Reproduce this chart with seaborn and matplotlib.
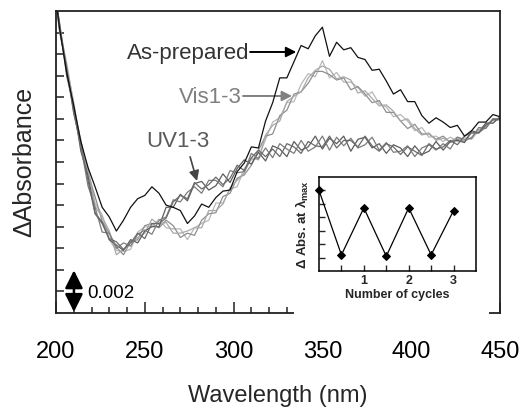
import numpy as np
import pandas as pd
import matplotlib
matplotlib.use("Agg")
import matplotlib.pyplot as plt
import seaborn as sns
from matplotlib.patches import Rectangle, FancyArrowPatch
from matplotlib.ticker import MultipleLocator

# ---------------- data (ΔA in units of 0.001) ----------------
wavelength = [200] + list(range(202, 451, 4))

as_prepared = [14.5,
    13.2, 11.15, 9.6, 7.95, 6.75, 5.85, 4.9, 4.45, 3.8, 4.3,
    4.9, 5.3, 5.45, 5.85, 5.55, 5.0, 4.9, 4.75, 4.15, 4.5,
    5.05, 4.9, 5.35, 5.65, 5.7, 6.55, 6.95, 7.7, 7.65, 8.9,
    9.75, 10.9, 10.9, 11.65, 12.4, 12.25, 12.85, 13.25, 11.9, 12.55,
    12.2, 12.3, 11.85, 11.75, 11.25, 11.3, 10.75, 10.15, 10.35, 9.8,
    9.8, 9.15, 8.8, 9.05, 8.85, 8.6, 8.7, 8.2, 8.45, 8.85,
    8.85, 9.2, 9.1]

vis1 = [14.6,
    13.2, 11.6, 9.65, 7.75, 6.75, 5.1, 4.55, 3.4, 2.9, 2.85,
    2.95, 3.75, 4.0, 4.0, 4.35, 3.95, 3.9, 3.9, 3.4, 3.95,
    4.15, 4.3, 5.1, 5.1, 5.75, 5.85, 6.7, 7.1, 7.2, 8.05,
    8.85, 9.05, 9.75, 9.8, 10.6, 11.1, 10.95, 11.7, 10.9, 11.15,
    10.7, 10.7, 10.45, 10.05, 10.25, 9.7, 9.55, 9.1, 9.2, 8.9,
    8.45, 8.6, 8.15, 8.2, 7.95, 8.15, 7.95, 8.15, 8.05, 8.45,
    8.8, 8.8, 9.05]

vis2 = [14.4,
    13.45, 11.3, 9.4, 8.0, 6.45, 5.4, 4.25, 3.7, 3.05, 2.7,
    3.3, 3.4, 4.05, 4.15, 3.95, 4.3, 4.05, 3.5, 3.7, 3.6,
    4.3, 4.6, 4.65, 5.4, 5.55, 6.25, 6.4, 6.85, 7.55, 8.2,
    8.3, 9.15, 9.4, 10.15, 10.25, 10.65, 11.2, 11.2, 11.05, 10.8,
    10.9, 10.35, 10.5, 10.15, 9.75, 9.85, 9.3, 9.3, 8.9, 8.55,
    8.75, 8.3, 8.3, 8.05, 8.2, 7.9, 8.05, 7.95, 8.35, 8.35,
    8.6, 9.0, 8.95]

vis3 = [14.5,
    13.1, 11.45, 9.75, 7.8, 6.6, 4.95, 4.45, 3.8, 2.7, 2.95,
    3.25, 3.5, 3.7, 4.35, 4.1, 4.2, 3.7, 3.7, 3.8, 3.95,
    3.95, 4.75, 4.75, 5.05, 5.8, 6.15, 6.5, 7.2, 7.1, 8.25,
    8.7, 8.9, 9.8, 10.05, 10.25, 10.9, 11.25, 11.45, 11.3, 10.85,
    10.95, 10.8, 10.2, 10.3, 9.95, 9.6, 9.65, 9.35, 8.9, 9.0,
    8.55, 8.25, 8.35, 8.0, 8.1, 7.95, 8.15, 7.95, 8.15, 8.5,
    8.65, 8.95, 8.95]

uv1 = [14.6,
    13.4, 11.0, 9.55, 7.5, 6.35, 4.65, 4.2, 3.4, 3.15, 2.9,
    3.4, 3.25, 3.8, 4.0, 4.0, 4.9, 4.9, 5.5, 5.2, 6.0,
    6.1, 5.7, 5.9, 6.45, 6.05, 6.7, 7.1, 6.9, 7.45, 7.05,
    7.75, 7.6, 7.25, 7.95, 7.55, 7.7, 8.2, 7.6, 8.1, 7.85,
    8.2, 7.5, 8.05, 8.15, 7.65, 7.85, 7.4, 7.8, 7.65, 7.25,
    7.75, 7.35, 7.5, 7.95, 7.55, 7.95, 8.0, 7.9, 8.45, 8.35,
    8.8, 8.8, 9.1]

uv2 = [14.4,
    13.05, 11.4, 9.3, 7.75, 5.9, 4.9, 3.75, 3.7, 3.0, 3.25,
    3.1, 3.65, 3.85, 3.65, 4.3, 4.45, 5.25, 5.15, 5.6, 5.85,
    5.55, 6.15, 6.15, 5.85, 6.6, 6.5, 6.55, 7.4, 7.15, 7.65,
    7.2, 7.85, 7.6, 7.4, 8.0, 7.5, 7.7, 8.2, 7.55, 8.15,
    7.75, 8.1, 7.65, 7.8, 8.15, 7.55, 7.9, 7.45, 7.5, 7.75,
    7.25, 7.65, 7.8, 7.55, 7.85, 7.6, 8.15, 8.05, 8.1, 8.6,
    8.55, 9.0, 9.0]

uv3 = [14.5,
    13.25, 11.3, 9.25, 7.8, 6.15, 4.6, 4.15, 3.45, 3.3, 2.95,
    3.25, 3.7, 3.45, 4.15, 4.15, 4.4, 5.15, 5.45, 5.3, 6.05,
    5.75, 5.95, 6.3, 5.95, 6.25, 6.85, 6.6, 7.2, 7.55, 7.25,
    7.6, 7.25, 7.85, 7.7, 7.4, 7.95, 7.75, 7.7, 8.2, 7.65,
    8.0, 8.0, 7.7, 8.2, 7.75, 7.5, 7.85, 7.7, 7.35, 7.7,
    7.5, 7.3, 7.85, 7.6, 7.7, 8.0, 7.8, 8.2, 8.35, 8.35,
    8.7, 8.95, 9.0]

curve_names = ["Vis1", "Vis2", "Vis3", "UV1", "UV2", "UV3", "As-prepared"]
curve_values = [vis1, vis2, vis3, uv1, uv2, uv3, as_prepared]
curve_colors = ["#b8b8b8", "#8e8e8e", "#a8a8a8", "#5c5c5c", "#7c7c7c", "#6a6a6a", "#111111"]

cycles = [0, 0.5, 1, 1.5, 2, 2.5, 3]
inset_abs = [6.0, 1.2, 4.7, 1.1, 4.7, 1.2, 4.5]

x_ticks = [200, 250, 300, 350, 400, 450]

# ---------------- style ----------------
sns.set_style("ticks")
plt.rcParams['font.family'] = ['Liberation Sans', 'DejaVu Sans']
plt.rcParams['mathtext.fontset'] = 'custom'
plt.rcParams['mathtext.rm'] = 'Liberation Sans:bold'
plt.rcParams['mathtext.bf'] = 'Liberation Sans:bold'

W, H = 524, 409
fig = plt.figure(figsize=(W / 100, H / 100), dpi=100)
fig.patch.set_facecolor("white")

ax = fig.add_axes([56 / W, 1 - 313 / H, 444 / W, 302 / H])
ax.set_zorder(1)

df = pd.DataFrame({
    "wavelength": wavelength * len(curve_names),
    "dA": sum(curve_values, []),
    "curve": sum([[n] * len(wavelength) for n in curve_names], []),
})
palette = dict(zip(curve_names, curve_colors))
sns.lineplot(data=df, x="wavelength", y="dA", hue="curve", hue_order=curve_names,
             palette=palette, estimator=None, sort=False, legend=False,
             linewidth=0.9, ax=ax)

ax.set_xlim(200, 450)
ax.set_ylim(0, 14)
ax.set_xticks(x_ticks)
ax.xaxis.set_minor_locator(MultipleLocator(10))
ax.set_yticks(range(1, 14))
ax.tick_params(axis="x", which="major", direction="in", length=8, width=1.1,
               pad=20, labelsize=17, colors="#222222", labelcolor="black")
ax.tick_params(axis="x", which="minor", direction="in", length=4.5, width=1.1, colors="#222222")
ax.tick_params(axis="y", direction="in", length=6, width=1.1, labelleft=False, colors="#222222")
for s in ax.spines.values():
    s.set_linewidth(1.3)
    s.set_color("#222222")
ax.set_xlabel("Wavelength (nm)", fontsize=17, labelpad=16)
ax.set_ylabel("ΔAbsorbance", fontsize=18, labelpad=14)

# annotations
head = "-|>,head_length=0.5,head_width=0.25"
ax.text(308.7, 11.78, "As-prepared", ha="right", va="baseline", fontsize=16, color="#333333")
ax.add_patch(FancyArrowPatch((309.3, 12.1), (335.3, 12.1), arrowstyle=head, mutation_scale=12,
                             color="black", lw=1.4, shrinkA=0, shrinkB=0))
ax.text(304.7, 9.74, "Vis1-3", ha="right", va="baseline", fontsize=16, color="#808080")
ax.add_patch(FancyArrowPatch((305.3, 10.06), (332.9, 10.06), arrowstyle=head, mutation_scale=12,
                             color="#808080", lw=1.4, shrinkA=0, shrinkB=0))
ax.text(250.7, 7.70, "UV1-3", ha="left", va="baseline", fontsize=16, color="#5a5a5a")
ax.add_patch(FancyArrowPatch((275.5, 7.24), (279.4, 6.12), arrowstyle=head, mutation_scale=12,
                             color="#444444", lw=1.2, shrinkA=0, shrinkB=0))

# scale bar
ax.add_patch(FancyArrowPatch((210.1, 0.05), (210.1, 1.98),
                             arrowstyle="<|-|>,head_length=0.6,head_width=0.3", mutation_scale=18,
                             color="black", lw=1.8, shrinkA=0, shrinkB=0, zorder=5, clip_on=False))
ax.text(217.5, 0.70, "0.002", ha="left", va="baseline", fontsize=13.5, color="black")

# white patch hiding the bottom spine under the inset
rect = Rectangle((294 / W, 1 - 322 / H), (489 - 294) / W, (322 - 272) / H,
                 transform=fig.transFigure, facecolor="white", edgecolor="none", zorder=2)
fig.add_artist(rect)

# ---------------- inset ----------------
axin = fig.add_axes([319 / W, 1 - 271 / H, 157 / W, 94 / H])
axin.set_zorder(3)
axin.set_facecolor("white")
sns.lineplot(x=cycles, y=inset_abs, ax=axin, color="black", marker="D", markersize=4.5,
             markeredgecolor="black", linewidth=0.9, clip_on=False)
axin.set_xlim(0, 3.5)
axin.set_ylim(0, 7)
axin.set_xticks([1, 2, 3])
axin.set_xticks([0.5, 1.5, 2.5], minor=True)
axin.set_yticks(range(1, 7))
axin.set_yticklabels([])
axin.tick_params(which="both", direction="in", length=4, width=1, labelsize=9, pad=3)
for lab in axin.get_xticklabels():
    lab.set_fontweight("bold")
for s in axin.spines.values():
    s.set_linewidth(1.1)
    s.set_color("black")
axin.set_xlabel("Number of cycles", fontsize=9, fontweight="bold", labelpad=1)
axin.set_ylabel("Δ Abs. at λ$_{\\rm max}$", fontsize=9.5, fontweight="bold", labelpad=3)

fig.savefig("out.png", dpi=100, facecolor="white")
